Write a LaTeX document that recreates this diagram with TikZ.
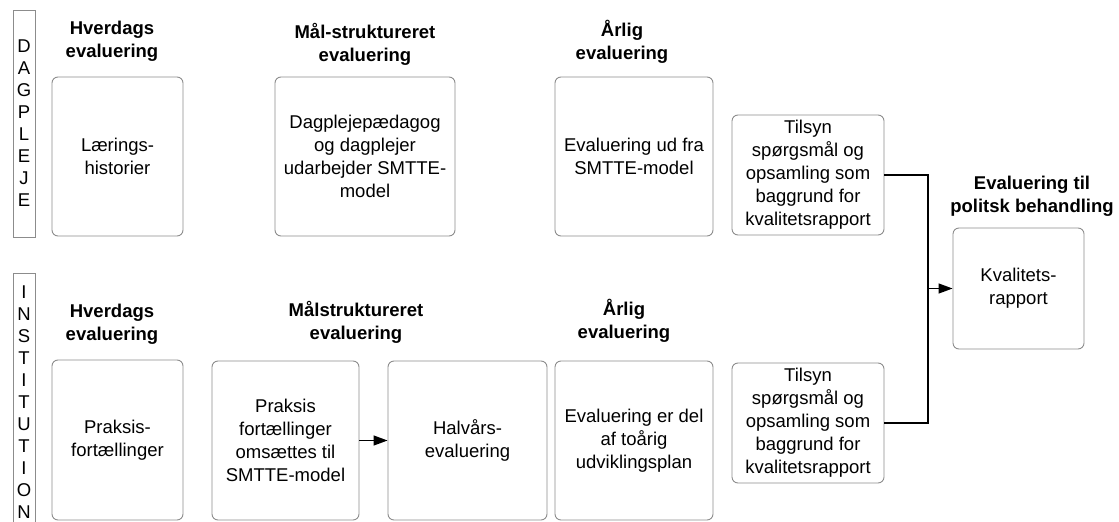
\documentclass[tikz,border=0pt]{standalone}
\usepackage{fontspec}
\setmainfont{Liberation Sans}
\usetikzlibrary{arrows.meta}
\begin{document}
\begin{tikzpicture}[x=1pt,y=-1pt,
  box/.style={draw=black!45, line width=0.9pt, rounded corners=6pt, align=center, inner sep=0pt,
    font=\fontsize{18.5}{23}\selectfont},
  hdr/.style={align=center, inner sep=0pt, font=\fontsize{18.5}{23}\selectfont\bfseries},
  side/.style={draw=black!45, line width=0.9pt},
  sidetxt/.style={align=center, inner sep=0pt, font=\fontsize{18.5}{22}\selectfont},
  conn/.style={draw=black, line width=1.3pt},
  arr/.style={conn, -{Triangle[length=14pt,width=10pt]}}]
\useasboundingbox (0,0) rectangle (1119,522);

% side bars
\draw[side] (13,10) rectangle (35,237);
\node[sidetxt] (dag) at (24,123) {D\\A\\G\\P\\L\\E\\J\\E};
\draw[side] (13,273) rectangle (35,530);
\node[sidetxt] (inst) at (24,402) {I\\N\\S\\T\\I\\T\\U\\T\\I\\O\\N};

% top row headers
\node[hdr] (h1) at (112,41) {Hverdags\\evaluering};
\node[hdr] (h2) at (365,44) {Mål-struktureret\\evaluering};
\node[hdr] (h3) at (622,42) {Årlig\\evaluering};

% top row boxes
\node[box, minimum width=131pt, minimum height=159pt] (L1) at (117.5,156.5) {Lærings-\\historier};
\node[box, minimum width=180pt, minimum height=159pt] (M1) at (365,156.5) {Dagplejepædagog\\og dagplejer\\udarbejder SMTTE-\\model};
\node[box, minimum width=158pt, minimum height=159pt] (A1) at (634,156.5) {Evaluering ud fra\\SMTTE-model};

% bottom row headers
\node[hdr] (h4) at (112,324) {Hverdags\\evaluering};
\node[hdr] (h5) at (356,322) {Målstruktureret\\evaluering};
\node[hdr] (h6) at (624,321) {Årlig\\evaluering};

% bottom row boxes
\node[box, minimum width=131pt, minimum height=160pt] (P1) at (117.5,440) {Praksis-\\fortællinger};
\node[box, minimum width=147pt, minimum height=159pt] (P2) at (285.5,440.5) {Praksis\\fortællinger\\omsættes til\\SMTTE-model};
\node[box, minimum width=159pt, minimum height=159pt] (H) at (467.5,440.5) {Halvårs-\\evaluering};
\node[box, minimum width=158pt, minimum height=159pt] (A2) at (634,440.5) {Evaluering er del\\af toårig\\udviklingsplan};

% right side
\node[box, minimum width=152pt, minimum height=120pt] (T1) at (808,175) {Tilsyn\\spørgsmål og\\opsamling som\\baggrund for\\kvalitetsrapport};
\node[box, minimum width=152pt, minimum height=120pt] (T2) at (808,423) {Tilsyn\\spørgsmål og\\opsamling som\\baggrund for\\kvalitetsrapport};
\node[hdr] (h7) at (1032,196) {Evaluering til\\politsk behandling};
\node[box, minimum width=131pt, minimum height=121pt] (K) at (1018.5,288.5) {Kvalitets-\\rapport};

% connectors
\coordinate (j) at (928,288.5);
\draw[conn] (T1.east) -| (j);
\draw[conn] (T2.east) -| (j);
\draw[arr] (j) -- (K.west);
\draw[arr] (P2.east) -- (H.west);
\end{tikzpicture}
\end{document}
